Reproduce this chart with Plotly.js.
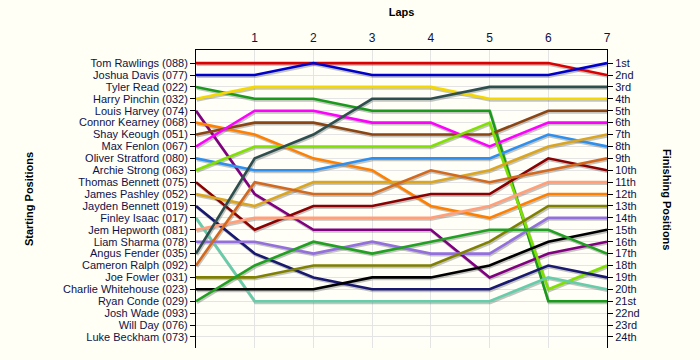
<!DOCTYPE html>
<html>
<head>
<meta charset="utf-8">
<script src="https://cdn.plot.ly/plotly-3.0.1.min.js"></script>
<style>html,body{margin:0;padding:0;background:#FFFFF5;}#chart{width:700px;height:360px;}</style>
</head>
<body>
<div id="chart"></div>
<script>
// Laps (0 = start)
const laps = [0, 1, 2, 3, 4, 5, 6, 7];

// Starting grid order (left axis labels)
const drivers = [
  "Tom Rawlings (088)", "Joshua Davis (077)", "Tyler Read (022)", "Harry Pinchin (032)",
  "Louis Harvey (074)", "Connor Kearney (068)", "Shay Keough (051)", "Max Fenlon (067)",
  "Oliver Stratford (080)", "Archie Strong (063)", "Thomas Bennett (075)", "James Pashley (052)",
  "Jayden Bennett (019)", "Finley Isaac (017)", "Jem Hepworth (081)", "Liam Sharma (078)",
  "Angus Fender (035)", "Cameron Ralph (092)", "Joe Fowler (031)", "Charlie Whitehouse (023)",
  "Ryan Conde (029)", "Josh Wade (093)", "Will Day (076)", "Luke Beckham (073)"
];

// Finishing position labels (right axis)
const finishLabels = ["1st","2nd","3rd","4th","5th","6th","7th","8th","9th","10th","11th","12th",
  "13th","14th","15th","16th","17th","18th","19th","20th","21st","22nd","23rd","24th"];

// Position of each driver at every lap
const tomRawlings       = [1, 1, 1, 1, 1, 1, 1, 2];
const joshuaDavis       = [2, 2, 1, 2, 2, 2, 2, 1];
const tylerRead         = [3, 4, 4, 5, 5, 5, 21, 21];
const harryPinchin      = [4, 3, 3, 3, 3, 4, 4, 4];
const louisHarvey       = [5, 12, 15, 15, 15, 19, 17, 16];
const connorKearney     = [6, 7, 9, 10, 13, 14, 12, 12];
const shayKeough        = [7, 6, 6, 7, 7, 7, 5, 5];
const maxFenlon         = [8, 5, 5, 6, 6, 8, 6, 6];
const oliverStratford   = [9, 10, 10, 9, 9, 9, 7, 8];
const archieStrong      = [10, 8, 8, 8, 8, 6, 20, 18];
const thomasBennett     = [11, 15, 13, 13, 12, 12, 9, 10];
const jamesPashley      = [12, 13, 11, 11, 11, 10, 8, 7];
const jaydenBennett     = [13, 17, 19, 20, 20, 20, 18, 19];
const finleyIsaac       = [14, 21, 21, 21, 21, 21, 19, 20];
const jemHepworth       = [15, 14, 14, 14, 14, 13, 11, 11];
const liamSharma        = [16, 16, 17, 16, 17, 17, 14, 14];
const angusFender       = [17, 9, 7, 4, 4, 3, 3, 3];
const cameronRalph      = [18, 11, 12, 12, 10, 11, 10, 9];
const joeFowler         = [19, 19, 18, 18, 18, 16, 13, 13];
const charlieWhitehouse = [20, 20, 20, 19, 19, 18, 16, 15];
const ryanConde         = [21, 18, 16, 17, 16, 15, 15, 17];

const seriesData = [tomRawlings, joshuaDavis, tylerRead, harryPinchin, louisHarvey, connorKearney,
  shayKeough, maxFenlon, oliverStratford, archieStrong, thomasBennett, jamesPashley, jaydenBennett,
  finleyIsaac, jemHepworth, liamSharma, angusFender, cameronRalph, joeFowler, charlieWhitehouse, ryanConde];

const colors = ["#DD0000", "#0000CC", "#1A9A1A", "#F5D800", "#800080", "#FF8000", "#8B4513", "#FF00FF",
  "#2E8FEF", "#80E000", "#8B0000", "#DAA520", "#191970", "#66CDAA", "#FFA07A", "#9370DB",
  "#2F4F4F", "#D2691E", "#808000", "#000000", "#22A022"];

const positions = drivers.map((d, i) => i + 1);

const traces = [];
// soft shadows under lines
seriesData.forEach((s) => {
  traces.push({
    x: laps.map(v => v + 0.015), y: s.map(v => v + 0.12), type: 'scatter', mode: 'lines',
    line: {color: 'rgba(90,90,90,0.35)', width: 3}, hoverinfo: 'skip', showlegend: false
  });
});
seriesData.forEach((s, i) => {
  traces.push({
    x: laps, y: s, type: 'scatter', mode: 'lines', name: drivers[i],
    line: {color: colors[i], width: 2.6}, showlegend: false
  });
});
// carrier for right axis
traces.push({x: laps, y: tomRawlings, yaxis: 'y2', type: 'scatter', mode: 'lines',
  line: {color: 'rgba(0,0,0,0)', width: 0}, hoverinfo: 'skip', showlegend: false});

const tickFont = {family: 'Arial, "Liberation Sans", sans-serif', size: 11, color: '#101048'};
const yRange = [24.93, -0.1];

const layout = {
  width: 700, height: 360,
  paper_bgcolor: '#FFFFF5', plot_bgcolor: '#FFFFF8',
  margin: {l: 196, r: 93, t: 50, b: 12},
  showlegend: false,
  xaxis: {
    side: 'top', range: [0, 7], tickvals: [1, 2, 3, 4, 5, 6, 7],
    showgrid: true, gridcolor: '#E4E4E4', gridwidth: 1,
    showline: true, linecolor: '#000', linewidth: 1, zeroline: false,
    ticks: '', tickfont: {family: 'Arial, "Liberation Sans", sans-serif', size: 12, color: '#101048'}, ticklabelstandoff: 2,
    title: {text: 'Laps', font: {family: 'Arial, "Liberation Sans", sans-serif', size: 11, color: '#000', weight: 'bold'}, standoff: 12}
  },
  yaxis: {
    range: yRange, tickvals: positions, ticktext: drivers,
    showgrid: true, gridcolor: '#E4E4E4', gridwidth: 1,
    showline: true, linecolor: '#000', linewidth: 1, zeroline: false,
    ticks: 'outside', ticklen: 5, tickcolor: '#000', tickfont: tickFont,
    title: {text: 'Starting Positions', font: {family: 'Arial, "Liberation Sans", sans-serif', size: 11, color: '#000', weight: 'bold'}, standoff: 27}
  },
  yaxis2: {
    overlaying: 'y', side: 'right', range: yRange, tickvals: positions, ticktext: finishLabels,
    showgrid: false, showline: true, linecolor: '#000', linewidth: 1, zeroline: false,
    ticks: 'outside', ticklen: 5, tickcolor: '#000', tickfont: tickFont
  },
  annotations: [{
    text: 'Finishing Positions', textangle: 90, xref: 'paper', yref: 'paper',
    x: 1, xshift: 60, y: 0.5, xanchor: 'center', yanchor: 'middle', showarrow: false,
    font: {family: 'Arial, "Liberation Sans", sans-serif', size: 11, color: '#000', weight: 'bold'}
  }]
};

Plotly.newPlot('chart', traces, layout, {displayModeBar: false, staticPlot: true});
</script>
</body>
</html>
